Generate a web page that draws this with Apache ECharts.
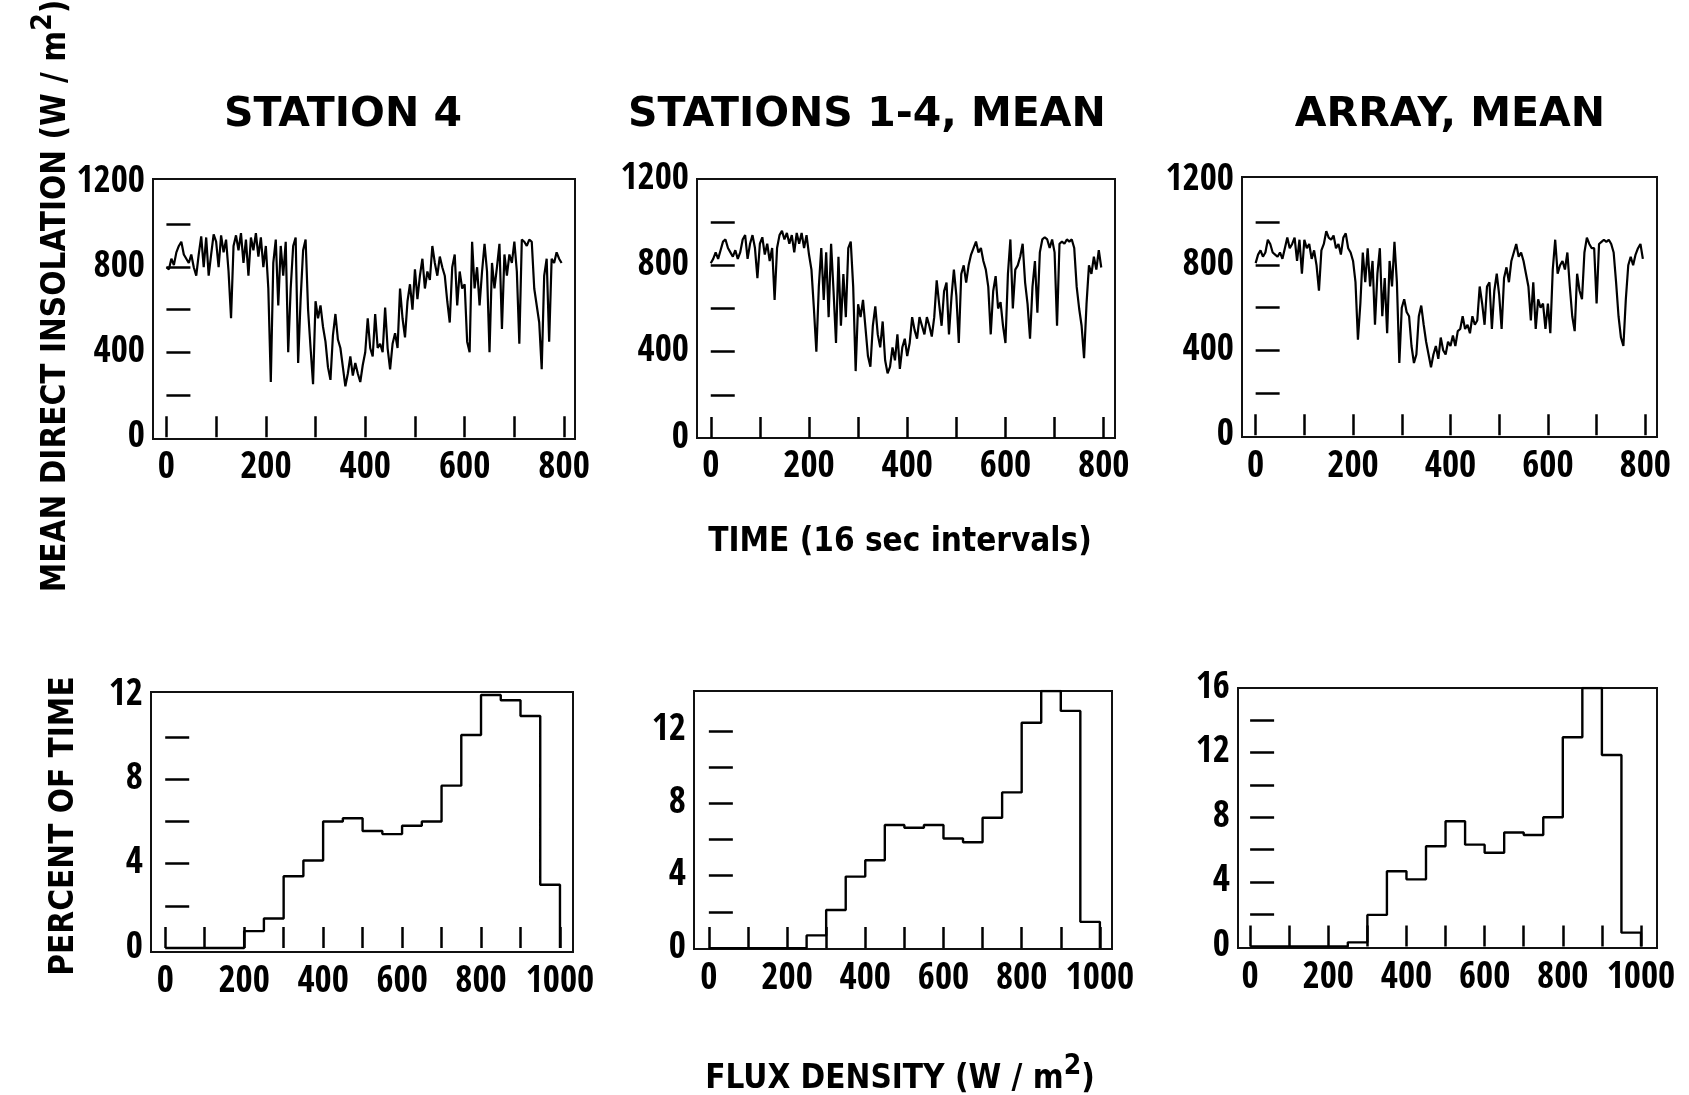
<!DOCTYPE html>
<html><head><meta charset="utf-8">
<script src="https://cdn.jsdelivr.net/npm/echarts@6/dist/echarts.min.js"></script>
<style>html,body{margin:0;padding:0;background:#fff}#c{width:1689px;height:1095px}</style>
</head><body><div id="c"></div>
<script>
// ---------------- DATA ----------------
const TIME_STEP = 5; // samples read every 5 intervals
const station4 = [
 800,790,840,810,870,900,920,860,840,820,
 860,800,760,860,945,800,940,760,860,955,
 920,800,950,870,930,780,560,900,950,880,
 960,820,930,760,940,880,960,850,940,800,
 900,700,260,820,930,620,900,760,920,400,
 700,900,940,350,650,880,930,600,420,250,
 640,560,620,520,450,330,270,480,580,460,
 420,330,240,300,380,290,350,300,260,340,
 400,560,420,380,580,420,440,400,610,420,
 320,440,490,420,700,560,470,640,720,600,
 790,650,760,840,700,780,740,900,820,760,
 850,800,760,640,540,800,860,620,780,700,
 720,450,400,920,700,800,620,780,910,780,
 400,820,700,800,910,510,860,760,860,820,
 920,780,440,930,920,900,930,920,700,620,
 540,320,760,840,450,840,820,870,840,820
];
const stations14Mean = [
 810,830,860,830,870,910,920,880,860,840,
 870,830,860,920,940,830,900,940,880,740,
 900,930,850,900,820,880,640,880,940,960,
 920,950,900,940,860,950,900,950,880,940,
 850,780,600,400,700,880,640,860,560,900,
 680,440,840,520,760,560,880,910,700,310,
 620,560,640,510,380,330,520,610,480,420,
 540,360,300,330,420,360,480,320,420,460,
 380,440,560,500,460,560,520,480,560,520,
 470,560,730,620,520,680,720,480,650,780,
 660,440,760,800,720,800,850,880,910,860,
 880,820,780,700,480,680,750,600,630,520,
 440,760,920,600,780,800,840,900,720,620,
 460,700,820,580,860,920,930,920,880,920,
 860,520,900,910,900,920,910,920,880,700,
 600,520,370,620,800,760,840,780,870,790
];
const arrayMean = [
 810,850,870,840,860,920,900,860,850,840,
 860,830,880,930,880,900,930,820,920,760,
 920,880,900,830,870,800,680,870,900,960,
 930,920,940,880,900,850,930,950,880,860,
 820,720,450,620,860,720,880,700,820,520,
 760,880,560,740,480,820,700,910,720,340,
 600,640,580,560,420,340,380,560,610,520,
 440,380,320,380,420,360,460,400,380,440,
 420,470,420,490,500,560,500,520,480,560,
 520,540,700,620,520,700,720,500,680,760,
 660,500,740,790,720,820,860,900,840,860,
 820,760,700,540,720,500,640,600,620,500,
 620,480,780,920,760,800,820,780,860,700,
 560,490,760,680,640,860,930,900,880,880,
 620,900,910,920,910,920,900,860,720,560,
 460,420,640,800,840,800,850,880,900,830
];
const BIN_WIDTH = 50; // W/m^2, bins from 0 to 1000
const histStation4 =   [0,0,0,0,0.8,1.4,3.4,4.15,6.0,6.15,5.55,5.4,5.8,6.0,7.7,10.1,12.0,11.75,11.0,3.0];
const histStations14 = [0,0,0,0,0,0.7,2.1,3.95,4.85,6.8,6.65,6.8,6.05,5.85,7.2,8.6,12.45,14.2,13.1,1.45];
const histArray =      [0,0,0,0,0,0.25,1.95,4.65,4.15,6.2,7.75,6.3,5.8,7.05,6.9,8.0,12.95,16,11.85,0.85];

const titles = ['STATION 4', 'STATIONS 1-4, MEAN', 'ARRAY, MEAN'];
const topXTicks = [0,100,200,300,400,500,600,700,800];
const topXLabels = [0,200,400,600,800];
const topYTicks = [200,400,600,800,1000];
const topYLabels = [0,400,800,1200];
const histXTicks = [0,100,200,300,400,500,600,700,800,900,1000];
const histXLabels = [0,200,400,600,800,1000];
const histYTicks1 = [2,4,6,8,10];
const histYLabels1 = [0,4,8,12];
const histYTicks2 = [2,4,6,8,10,12];
const histYLabels2 = [0,4,8,12];
const histYTicks3 = [2,4,6,8,10,12,14];
const histYLabels3 = [0,4,8,12,16];

// ---------------- BUILD ----------------
const NARROW = '"Open Sans Condensed", "Roboto Condensed", "DejaVu Sans Condensed", sans-serif';
const COND = '"DejaVu Sans Condensed", "DejaVu Sans", sans-serif';
const WIDE = '"DejaVu Sans", sans-serif';

const grids = [
  {left:153, top:179, width:422, height:260},
  {left:697, top:179, width:418, height:259},
  {left:1242, top:177, width:415, height:260},
  {left:151, top:692, width:422, height:260},
  {left:694, top:691, width:418, height:258},
  {left:1238, top:688, width:419, height:260}
].map(g => Object.assign({show:true, borderColor:'#111', borderWidth:2, backgroundColor:'transparent', outerBoundsMode:'none'}, g));

const axisCfg = [
  {x:[-27,822], y:[-8,1215], xt:topXTicks, xl:topXLabels, yt:topYTicks, yl:topYLabels, xm:11},
  {x:[-28,823], y:[0,1200], xt:topXTicks, xl:topXLabels, yt:topYTicks, yl:topYLabels, xm:11},
  {x:[-28,824], y:[-8,1215], xt:topXTicks, xl:topXLabels, yt:topYTicks, yl:topYLabels, xm:12},
  {x:[-36,1033], y:[-0.19,12.14], xt:histXTicks, xl:histXLabels, yt:histYTicks1, yl:histYLabels1, xm:12},
  {x:[-38,1031], y:[-0.05,14.2], xt:histXTicks, xl:histXLabels, yt:histYTicks2, yl:histYLabels2, xm:12},
  {x:[-31,1041], y:[-0.1,16], xt:histXTicks, xl:histXLabels, yt:histYTicks3, yl:histYLabels3, xm:12}
];

const labelStyle = {color:'#000', fontFamily:NARROW, fontWeight:'bold', fontSize:37, formatter: v => String(v)};
const xAxis = axisCfg.map((a,i) => ({
  type:'value', gridIndex:i, min:a.x[0], max:a.x[1],
  axisLine:{show:false}, splitLine:{show:false},
  axisTick:{show:true, inside:true, length:21, customValues:a.xt, lineStyle:{color:'#000', width:2.5}},
  axisLabel:Object.assign({customValues:a.xl, margin:a.xm, hideOverlap:false}, labelStyle)
}));
const yAxis = axisCfg.map((a,i) => ({
  type:'value', gridIndex:i, min:a.y[0], max:a.y[1],
  axisLine:{show:false}, splitLine:{show:false},
  axisTick:{show:true, inside:true, length:24, customValues:a.yt, lineStyle:{color:'#000', width:2.5}},
  axisLabel:Object.assign({customValues:a.yl, margin:8, hideOverlap:false}, labelStyle)
}));

function timeSeries(vals){ return vals.map((v,i) => [i*TIME_STEP, v]); }
function histSteps(vals){
  const pts = vals.map((v,i) => [i*BIN_WIDTH, v]);
  pts.push([vals.length*BIN_WIDTH, vals[vals.length-1]]);
  pts.push([vals.length*BIN_WIDTH, 0]);
  return pts;
}
const series = [station4, stations14Mean, arrayMean].map((d,i) => ({
  type:'line', xAxisIndex:i, yAxisIndex:i, data:timeSeries(d), symbol:'none',
  lineStyle:{color:'#000', width:2.2}, silent:true
})).concat([histStation4, histStations14, histArray].map((d,i) => ({
  type:'line', xAxisIndex:i+3, yAxisIndex:i+3, data:histSteps(d), symbol:'none', step:'end',
  lineStyle:{color:'#000', width:2.4}, silent:true
})));

const supRich = {s:{fontSize:28, fontFamily:COND, fontWeight:'bold', fill:'#000', verticalAlign:'top', padding:[0,0,24,0]}};
const titleStyle = {fontFamily:WIDE, fontWeight:'bold', fontSize:41, fill:'#000', align:'center', verticalAlign:'middle'};
const axTitleStyle = {fontFamily:COND, fontWeight:'bold', fontSize:33, fill:'#000', align:'center', verticalAlign:'middle'};
const graphic = [
  {type:'text', x:343, y:115, style:Object.assign({text:titles[0]}, titleStyle)},
  {type:'text', x:867, y:115, style:Object.assign({text:titles[1]}, titleStyle)},
  {type:'text', x:1450, y:115, style:Object.assign({text:titles[2]}, titleStyle)},
  {type:'text', x:900, y:542, style:Object.assign({text:'TIME (16 sec intervals)'}, axTitleStyle)},
  {type:'text', x:900, y:1079, style:Object.assign({text:'FLUX DENSITY (W / m{s|2})', rich:supRich}, axTitleStyle)},
  {type:'text', x:56, y:296, rotation:Math.PI/2, style:Object.assign({text:'MEAN DIRECT INSOLATION (W / m{s|2})', rich:supRich}, axTitleStyle)},
  {type:'text', x:64, y:826, rotation:Math.PI/2, style:Object.assign({text:'PERCENT OF TIME'}, axTitleStyle)}
];

const chart = echarts.init(document.getElementById('c'), null, {renderer:'canvas'});
chart.setOption({
  animation:false, backgroundColor:'#fff',
  grid:grids, xAxis:xAxis, yAxis:yAxis, series:series, graphic:graphic
});
</script></body></html>
